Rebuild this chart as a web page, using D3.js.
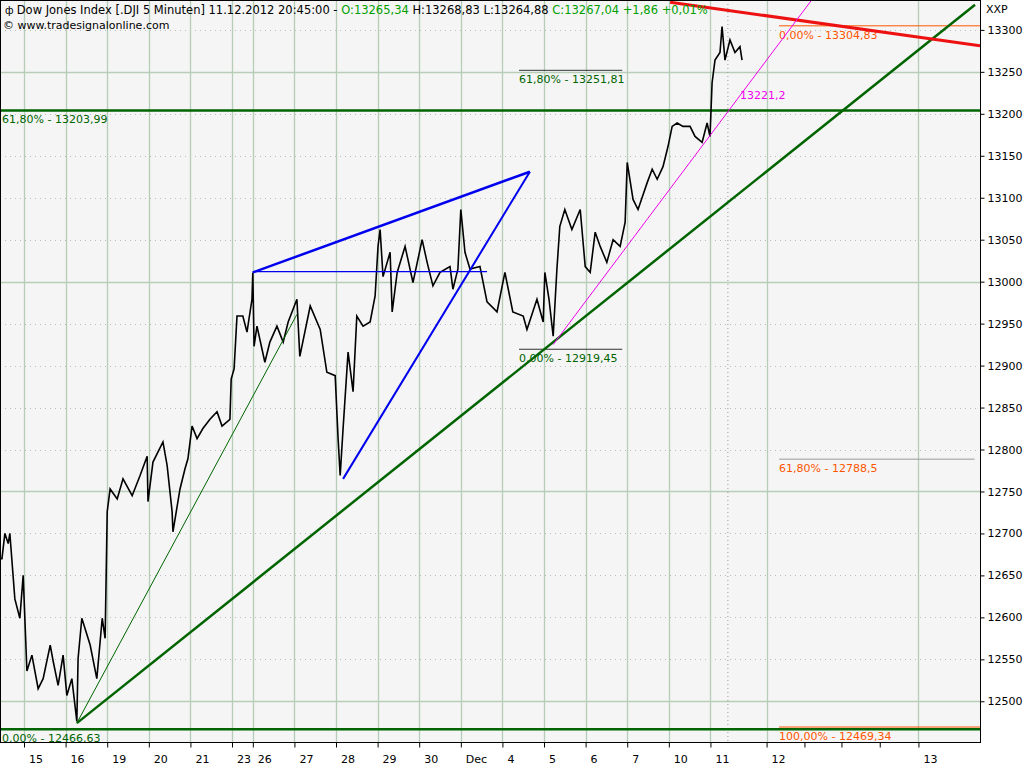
<!DOCTYPE html>
<html><head><meta charset="utf-8">
<script src="https://cdn.jsdelivr.net/npm/d3@7"></script>
<style>body{margin:0;background:#fff;font-family:"DejaVu Sans",sans-serif}</style>
</head><body><svg id="c" width="1024" height="768"></svg>
<script>
// price path: [trading-day position, value]
const priceT=[-0.58,-0.53,-0.46,-0.38,-0.34,-0.22,-0.10,-0.02,0.07,0.19,0.34,0.46,0.63,0.70,0.82,0.94,1.03,1.15,1.27,1.30,1.39,1.59,1.75,1.88,1.95,2.00,2.07,2.24,2.38,2.60,2.79,2.96,2.98,3.10,3.34,3.44,3.56,3.58,3.75,3.87,3.94,4.04,4.16,4.30,4.47,4.64,4.76,4.95,4.98,5.05,5.12,5.26,5.36,5.48,5.50,5.53,5.60,5.79,5.91,6.08,6.23,6.35,6.56,6.63,6.88,7.12,7.28,7.48,7.55,7.60,7.67,7.79,7.91,8.00,8.15,8.32,8.44,8.51,8.56,8.63,8.80,8.85,8.97,9.16,9.35,9.57,9.69,9.83,10.00,10.24,10.31,10.43,10.50,10.60,10.72,10.96,11.13,11.37,11.56,11.75,12.00,12.09,12.33,12.48,12.52,12.62,12.72,12.81,12.88,13.00,13.17,13.37,13.49,13.61,13.73,13.85,14.01,14.16,14.33,14.45,14.50,14.64,14.76,14.98,15.10,15.22,15.36,15.48,15.58,15.70,15.84,16.01,16.13,16.30,16.42,16.49,16.54,16.61,16.73,16.78,16.85,16.97,17.09,17.21,17.26];
const priceV=[12670,12670,12700,12688,12700,12622,12599,12650,12536,12555,12515,12527,12567,12548,12519,12555,12507,12527,12476,12551,12599,12567,12527,12599,12575,12726,12753,12741,12765,12745,12769,12792,12738,12785,12809,12781,12726,12702,12753,12777,12789,12828,12813,12825,12836,12845,12828,12836,12884,12896,12959,12959,12940,12979,13011,12923,12947,12904,12928,12947,12928,12952,12979,12911,12971,12943,12892,12888,12813,12769,12825,12916,12869,12959,12947,12952,12983,13042,13062,13006,13035,12964,13011,13042,12999,13050,13023,12995,13011,13018,12991,13015,13086,13035,13015,13018,12976,12964,13011,12964,12959,12943,12979,12952,13011,12979,12935,13015,13066,13086,13062,13086,13018,13011,13059,13042,13023,13050,13042,13071,13142,13098,13086,13118,13134,13122,13137,13161,13185,13189,13185,13185,13173,13166,13189,13173,13237,13264,13273,13304,13264,13288,13273,13280,13264];
const dateLabels=["15","16","19","20","21","23","26","27","28","29","30","Dec","4","5","6","7","10","11","12","13"];
const datePos=[0,1,2,3,4,5,5.5,6.5,7.5,8.5,9.5,10.5,11.5,12.5,13.5,14.5,15.5,16.5,17.85,21.5];
const minorPos=[18.76,19.65,20.57];
const yTicks=[13300,13250,13200,13150,13100,13050,13000,12950,12900,12850,12800,12750,12700,12650,12600,12550,12500];
const majorY=[13250,13000,12750,12500];
// drawn lines: [t1,v1,t2,v2,color,width]
const drawT1=[5.50,7.67,5.50,1.27,1.27,15.53,12.72];
const drawV1=[13011,12765,13012,12474,12474,13333,12925];
const drawT2=[12.16,12.16,11.13,6.56,22.86,22.98,18.94];
const drawV2=[13131,13131,13012,12961,13330,13281,13336];
const drawCol=["#0000ee","#0000ee","#0000ee","#006400","#006400","#ee1111","#ee00ee"];
const drawW=[2.5,2,1.2,1,2.5,3,1];
// fib labels
const fibText=["61,80% - 13251,81","0,00% - 12919,45","0,00% - 13304,83","61,80% - 12788,5","100,00% - 12469,34"];
const fibV=[13251.81,12919.45,13304.83,12788.5,12469.34];
const fibT0=[11.90,11.90,18.15,18.15,18.15];
const fibT1=[14.38,14.38,22.98,22.85,22.98];
const fibCol=["#006400","#006400","#ff5500","#ff5500","#ff5500"];
const fibLine=["#333","#333","#ff5500","#999","#ff5500"];

const svg=d3.select("#c");
const W=980,H=742;
const x=d3.scaleLinear().domain([-0.577,22.98]).range([0,W]);
const y=d3.scaleLinear().domain([12451.5,13335.6]).range([H,0]);
svg.append("rect").attr("x",0).attr("y",0).attr("width",W).attr("height",H).attr("fill","#f5f5f5");
const g=svg.append("g");
// horizontal grid
yTicks.forEach(v=>{const maj=majorY.includes(v);
 g.append("line").attr("x1",0).attr("x2",W).attr("y1",Math.round(y(v))+.5).attr("y2",Math.round(y(v))+.5)
 .attr("stroke",maj?"#b7cdb7":"#bbbbbb").attr("stroke-width",maj?1.3:1).attr("stroke-dasharray",maj?null:"1,4");});
// vertical grid
datePos.forEach(t=>g.append("line").attr("x1",Math.round(x(t))+.5).attr("x2",Math.round(x(t))+.5).attr("y1",0).attr("y2",H).attr("stroke","#b7cdb7").attr("stroke-width",1.3));
g.append("line").attr("x1",x(16.92)).attr("x2",x(16.92)).attr("y1",0).attr("y2",H).attr("stroke","#999").attr("stroke-dasharray","1,3");
// horizontal fib thick lines
[13203.99,12466.63].forEach(v=>g.append("line").attr("x1",0).attr("x2",W).attr("y1",y(v)).attr("y2",y(v)).attr("stroke","#006400").attr("stroke-width",2.5));
// fib labels
fibText.forEach((s,i)=>{
 g.append("line").attr("x1",x(fibT0[i])).attr("x2",x(fibT1[i])).attr("y1",y(fibV[i])).attr("y2",y(fibV[i])).attr("stroke",fibLine[i]).attr("stroke-width",1);
 g.append("text").attr("x",x(fibT0[i])).attr("y",y(fibV[i])+13).attr("fill",fibCol[i]).attr("font-size",11).text(s);});
g.append("text").attr("x",2).attr("y",y(13203.99)+13).attr("fill","#006400").attr("font-size",11).text("61,80% - 13203,99");
g.append("text").attr("x",2).attr("y",y(12466.63)+13).attr("fill","#006400").attr("font-size",11).text("0,00% - 12466,63");
g.append("text").attr("x",740).attr("y",y(13221.2)+3).attr("fill","#ee00ee").attr("font-size",11).text("13221,2");
// price line
const pts=priceT.map((t,i)=>[t,priceV[i]]);
g.append("path").datum(pts).attr("d",d3.line().x(d=>x(d[0])).y(d=>y(d[1]))).attr("fill","none").attr("stroke","#000").attr("stroke-width",1.6);
// drawn lines
const clip=svg.append("clipPath").attr("id","cp").append("rect").attr("width",W).attr("height",H);
drawT1.forEach((t,i)=>g.append("line").attr("clip-path","url(#cp)").attr("x1",x(t)).attr("y1",y(drawV1[i])).attr("x2",x(drawT2[i])).attr("y2",y(drawV2[i])).attr("stroke",drawCol[i]).attr("stroke-width",drawW[i]));
// frame
svg.append("rect").attr("x",0.5).attr("y",0.5).attr("width",W).attr("height",H).attr("fill","none").attr("stroke","#000");
// right axis
const ya=svg.append("g").attr("transform",`translate(${W+0.5},0)`).call(d3.axisRight(y).tickValues(yTicks).tickFormat(d3.format("d")).tickSize(4));
ya.select(".domain").remove();
ya.selectAll("text").attr("font-size",11).attr("font-family","DejaVu Sans").attr("fill","#000");
svg.append("text").attr("x",986).attr("y",13).attr("font-size",11).text("XXP");
// bottom axis
const xa=svg.append("g").attr("transform",`translate(0,${H+0.5})`).call(d3.axisBottom(x).tickValues(datePos.concat(minorPos)).tickFormat("").tickSize(5));
xa.select(".domain").remove();
datePos.forEach((t,i)=>svg.append("text").attr("x",x(t)+5).attr("y",763).attr("font-size",11).text(dateLabels[i]));
// header
const hd=svg.append("text").attr("x",5).attr("y",14).attr("font-size",11.5);
hd.append("tspan").text("ф ").attr("font-size",10);
hd.append("tspan").text("Dow Jones Index [.DJI  5 Minuten] 11.12.2012 20:45:00 - ");
hd.append("tspan").attr("fill","#00a000").text("O:13265,34 ");
hd.append("tspan").text("H:13268,83 L:13264,88 ");
hd.append("tspan").attr("fill","#00a000").text("C:13267,04 +1,86 +0,01%");
svg.append("text").attr("x",3).attr("y",29).attr("font-size",11).text("© www.tradesignalonline.com");
</script></body></html>
